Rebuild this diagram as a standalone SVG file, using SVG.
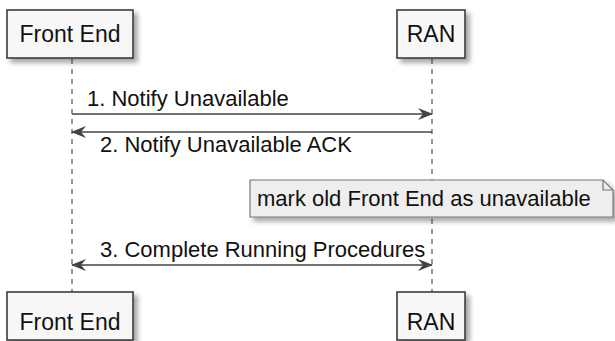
<svg xmlns="http://www.w3.org/2000/svg" width="615" height="341" viewBox="0 0 615 341">
  <style>
    .box { fill: #f7f7f7; stroke: #3c3c3c; stroke-width: 1.6; }
    .lbl { font-family: "Liberation Sans", Arial, sans-serif; font-size: 22px; fill: #111; }
    .part { font-size: 23px; }
    .life { stroke: #555; stroke-width: 1.2; stroke-dasharray: 5 5; fill: none; }
    .msg { stroke: #444; stroke-width: 1.4; fill: none; }
    .note { fill: #eeeeee; stroke: #777; stroke-width: 1.2; }
  </style>
  <defs>
    <filter id="shadow" x="-10%" y="-20%" width="130%" height="160%">
      <feDropShadow dx="4" dy="4" stdDeviation="2.5" flood-color="#000" flood-opacity="0.35"/>
    </filter>
    <marker id="head" viewBox="0 0 15 12" refX="14" refY="6" markerWidth="15" markerHeight="12" markerUnits="userSpaceOnUse" orient="auto-start-reverse">
      <path d="M0,0 L15,6 L0,12 L5,6 Z" fill="#444"/>
    </marker>
  </defs>

  <!-- lifelines -->
  <g id="lifelines">
    <line class="life" x1="72" y1="59" x2="72" y2="292"/>
    <line class="life" x1="432" y1="59" x2="432" y2="292"/>
  </g>

  <!-- participants -->
  <g id="frontend-top">
    <rect class="box" x="7" y="10" width="126" height="48" filter="url(#shadow)"/>
    <text class="lbl part" x="70" y="42" text-anchor="middle">Front End</text>
  </g>
  <g id="ran-top">
    <rect class="box" x="397" y="10" width="68" height="48" filter="url(#shadow)"/>
    <text class="lbl part" x="431" y="42" text-anchor="middle">RAN</text>
  </g>
  <g id="frontend-bottom">
    <rect class="box" x="7" y="292" width="126" height="48" filter="url(#shadow)"/>
    <text class="lbl part" x="70" y="330" text-anchor="middle">Front End</text>
  </g>
  <g id="ran-bottom">
    <rect class="box" x="397" y="292" width="68" height="48" filter="url(#shadow)"/>
    <text class="lbl part" x="431" y="330" text-anchor="middle">RAN</text>
  </g>

  <!-- messages -->
  <g id="connectors">
    <line class="msg" x1="72" y1="114" x2="432" y2="114" marker-end="url(#head)"/>
    <text class="lbl" x="87" y="106">1. Notify Unavailable</text>
    <line class="msg" x1="432" y1="132" x2="72" y2="132" marker-end="url(#head)"/>
    <text class="lbl" x="100" y="152">2. Notify Unavailable ACK</text>
    <line class="msg" x1="72" y1="265" x2="432" y2="265" marker-start="url(#head)" marker-end="url(#head)"/>
    <text class="lbl" x="100" y="257">3. Complete Running Procedures</text>
  </g>

  <!-- note over RAN -->
  <g id="note">
    <path class="note" d="M250,180 H603 L613,190 V217 H250 Z" filter="url(#shadow)"/>
    <path d="M603,180 V190 H613" fill="none" stroke="#777" stroke-width="1.2"/>
    <text class="lbl" x="257" y="206">mark old Front End as unavailable</text>
  </g>
</svg>
